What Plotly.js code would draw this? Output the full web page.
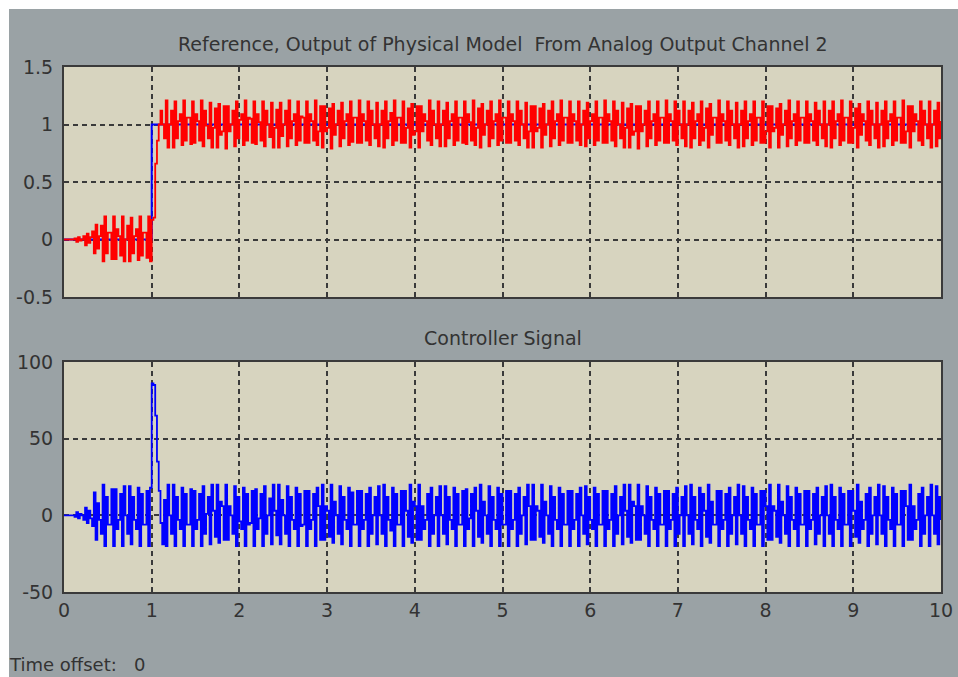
<!DOCTYPE html>
<html>
<head>
<meta charset="utf-8">
<script src="https://cdn.plot.ly/plotly-3.0.1.min.js"></script>
<style>
  html, body { margin: 0; padding: 0; background: #ffffff; width: 958px; height: 677px; overflow: hidden; }
  #chart { position: absolute; left: 9px; top: 9px; width: 949px; height: 668px; }
</style>
</head>
<body>
<div id="chart"></div>
<script>
// ---------------- data ----------------
const sampleTime = 0.02;   // seconds between samples (zero-order hold)
const startTime = 0;

// Reference signal (blue, top panel)
const refTime  = [0, 1, 10];
const refValue = [0, 1, 1];

// Output of physical model (red, top panel), one row = 0.1 s
const plantOutput = [
  0, 0, 0, 0, 0,
  0, 0.01, -0.02, 0.02, -0.01,
  0, 0.03, -0.05, 0.05, -0.03,
  0.02, 0.07, -0.12, 0.13, -0.08,
  0.03, 0.12, -0.19, 0.2, -0.12,
  0.06, 0.06, -0.17, 0.2, -0.17,
  0.09, 0.03, -0.14, 0.2, -0.19,
  0, 0.12, -0.19, 0.19, -0.12,
  0.03, 0.09, -0.18, 0.2, -0.14,
  0.06, 0.06, -0.16, 0.2, -0.19,
  0.17, 0.19, 0.66, 0.86, 1.0,
  1.12, 1.00, 0.88, 1.21, 0.80,
  1.00, 1.12, 0.80, 1.20, 0.88,
  1.03, 1.09, 0.82, 1.21, 0.86,
  1.06, 1.06, 0.83, 1.20, 0.84,
  1.09, 1.03, 0.86, 1.21, 0.81,
  1.12, 0.99, 0.88, 1.19, 0.80,
  0.97, 1.14, 0.80, 1.18, 0.91,
  0.94, 1.16, 0.79, 1.16, 0.94,
  1.00, 1.12, 0.81, 1.20, 0.88,
  1.04, 1.09, 0.82, 1.21, 0.86,
  1.06, 1.05, 0.84, 1.20, 0.83,
  1.09, 1.02, 0.86, 1.20, 0.81,
  1.12, 1.00, 0.89, 1.19, 0.80,
  0.97, 1.13, 0.80, 1.19, 0.90,
  1.00, 1.12, 0.81, 1.21, 0.88,
  1.03, 1.09, 0.82, 1.20, 0.86,
  1.07, 1.06, 0.84, 1.20, 0.84,
  1.09, 1.03, 0.86, 1.21, 0.82,
  0.94, 1.16, 0.80, 1.16, 0.94,
  0.97, 1.14, 0.79, 1.18, 0.91,
  1.00, 1.12, 0.81, 1.19, 0.88,
  1.03, 1.09, 0.82, 1.20, 0.85,
  1.06, 1.06, 0.84, 1.21, 0.84,
  1.09, 1.03, 0.86, 1.20, 0.82,
  1.12, 1.00, 0.88, 1.19, 0.81,
  1.00, 1.12, 0.80, 1.20, 0.88,
  1.03, 1.10, 0.82, 1.21, 0.86,
  1.06, 1.06, 0.84, 1.20, 0.84,
  0.97, 1.14, 0.80, 1.18, 0.91,
  0.94, 1.16, 0.80, 1.16, 0.94,
  1.09, 1.03, 0.86, 1.21, 0.82,
  1.12, 1.00, 0.88, 1.20, 0.81,
  1.00, 1.12, 0.81, 1.19, 0.88,
  1.03, 1.09, 0.82, 1.20, 0.86,
  1.06, 1.06, 0.84, 1.20, 0.83,
  1.09, 1.02, 0.86, 1.21, 0.82,
  0.97, 1.14, 0.80, 1.18, 0.91,
  1.00, 1.12, 0.81, 1.20, 0.88,
  1.03, 1.09, 0.82, 1.21, 0.86,
  1.06, 1.06, 0.84, 1.20, 0.84,
  1.09, 1.03, 0.86, 1.20, 0.82,
  1.12, 1.00, 0.88, 1.19, 0.80,
  0.94, 1.16, 0.80, 1.16, 0.94,
  0.97, 1.14, 0.80, 1.18, 0.91,
  1.00, 1.12, 0.81, 1.20, 0.88,
  1.03, 1.09, 0.82, 1.21, 0.86,
  1.06, 1.06, 0.84, 1.20, 0.84,
  1.09, 1.03, 0.86, 1.20, 0.82,
  1.00, 1.12, 0.81, 1.19, 0.88,
  1.03, 1.09, 0.82, 1.20, 0.86,
  1.06, 1.06, 0.84, 1.21, 0.84,
  1.09, 1.03, 0.86, 1.20, 0.81,
  1.12, 1.00, 0.88, 1.19, 0.80,
  0.97, 1.14, 0.80, 1.18, 0.91,
  0.94, 1.16, 0.79, 1.16, 0.94,
  1.00, 1.12, 0.81, 1.20, 0.88,
  1.03, 1.09, 0.82, 1.20, 0.86,
  1.06, 1.06, 0.84, 1.21, 0.84,
  1.09, 1.03, 0.86, 1.20, 0.82,
  1.12, 1.00, 0.88, 1.20, 0.81,
  1.00, 1.12, 0.80, 1.19, 0.88,
  1.03, 1.09, 0.82, 1.20, 0.86,
  0.97, 1.14, 0.80, 1.18, 0.91,
  1.06, 1.06, 0.84, 1.21, 0.84,
  1.09, 1.03, 0.86, 1.20, 0.82,
  1.12, 1.00, 0.88, 1.19, 0.80,
  1.00, 1.12, 0.81, 1.20, 0.88,
  1.03, 1.09, 0.82, 1.20, 0.86,
  1.06, 1.06, 0.84, 1.20, 0.84,
  0.94, 1.16, 0.80, 1.16, 0.94,
  0.97, 1.14, 0.80, 1.18, 0.91,
  1.00, 1.12, 0.81, 1.21, 0.88,
  1.03, 1.09, 0.82, 1.20, 0.86,
  1.06, 1.06, 0.84, 1.20, 0.84,
  1.09, 1.03, 0.86, 1.19, 0.82,
  1.12, 1.00, 0.88, 1.20, 0.81,
  1.00, 1.12, 0.80, 1.20, 0.88,
  1.03, 1.09, 0.82, 1.21, 0.86,
  1.06, 1.06, 0.84, 1.20, 0.84,
  0.97, 1.14, 0.80, 1.18, 0.91,
  1.09, 1.03, 0.86, 1.20, 0.82,
  1.12, 1.00, 0.88, 1.19, 0.80,
  1.00, 1.12, 0.81, 1.20, 0.88,
  1.03, 1.09, 0.82, 1.20, 0.86,
  1.06, 1.06, 0.84, 1.21, 0.84,
  0.94, 1.16, 0.80, 1.16, 0.94,
  1.09, 1.03, 0.86, 1.20, 0.82,
  1.12, 1.00, 0.88, 1.20, 0.80,
  1.00, 1.12, 0.81, 1.19, 0.88,
  1.03
];

// Controller signal (blue, bottom panel), one row = 0.1 s
const controllerSignal = [
  0, 0, 0, 0, 0,
  0, -1, 2, -2, 1,
  0, -3, 5, -5, 3,
  -2, -7, 15, -16, 8,
  -3, -12, 20, -20, 12,
  -6, -6, 17, -20, 17,
  -9, -3, 14, -20, 19,
  0, -12, 19, -19, 12,
  -3, -9, 18, -20, 14,
  -6, -6, 16, -20, 18,
  86, 85, 65, 35, 16,
  -5, -19, 10, -20, 20,
  0, -12, 20, -20, 12,
  -3, -9, 18, -20, 14,
  -6, -6, 17, -20, 16,
  -9, -3, 14, -20, 19,
  -12, 1, 12, -19, 20,
  3, -14, 20, -18, 9,
  6, -16, 20, -16, 6,
  0, -12, 19, -20, 12,
  -4, -9, 18, -20, 14,
  -6, -5, 16, -20, 17,
  -9, -2, 14, -20, 19,
  -12, 0, 11, -19, 20,
  3, -13, 20, -19, 10,
  0, -12, 19, -20, 12,
  -3, -9, 18, -20, 14,
  -7, -6, 16, -20, 16,
  -9, -3, 14, -20, 18,
  6, -16, 20, -16, 6,
  3, -14, 20, -18, 9,
  0, -12, 19, -19, 12,
  -3, -9, 18, -20, 15,
  -6, -6, 16, -20, 16,
  -9, -3, 14, -20, 18,
  -12, 0, 12, -19, 19,
  0, -12, 20, -20, 12,
  -3, -10, 18, -20, 14,
  -6, -6, 16, -20, 16,
  3, -14, 20, -18, 9,
  6, -16, 20, -16, 6,
  -9, -3, 14, -20, 18,
  -12, 0, 12, -20, 19,
  0, -12, 19, -19, 12,
  -3, -9, 18, -20, 14,
  -6, -6, 16, -20, 17,
  -9, -2, 14, -20, 18,
  3, -14, 20, -18, 9,
  0, -12, 19, -20, 12,
  -3, -9, 18, -20, 14,
  -6, -6, 16, -20, 16,
  -9, -3, 14, -20, 18,
  -12, 0, 12, -19, 20,
  6, -16, 20, -16, 6,
  3, -14, 20, -18, 9,
  0, -12, 19, -20, 12,
  -3, -9, 18, -20, 14,
  -6, -6, 16, -20, 16,
  -9, -3, 14, -20, 18,
  0, -12, 19, -19, 12,
  -3, -9, 18, -20, 14,
  -6, -6, 16, -20, 16,
  -9, -3, 14, -20, 19,
  -12, 0, 12, -19, 20,
  3, -14, 20, -18, 9,
  6, -16, 20, -16, 6,
  0, -12, 19, -20, 12,
  -3, -9, 18, -20, 14,
  -6, -6, 16, -20, 16,
  -9, -3, 14, -20, 18,
  -12, 0, 12, -20, 19,
  0, -12, 20, -19, 12,
  -3, -9, 18, -20, 14,
  3, -14, 20, -18, 9,
  -6, -6, 16, -20, 16,
  -9, -3, 14, -20, 18,
  -12, 0, 12, -19, 20,
  0, -12, 19, -20, 12,
  -3, -9, 18, -20, 14,
  -6, -6, 16, -20, 16,
  6, -16, 20, -16, 6,
  3, -14, 20, -18, 9,
  0, -12, 19, -20, 12,
  -3, -9, 18, -20, 14,
  -6, -6, 16, -20, 16,
  -9, -3, 14, -19, 18,
  -12, 0, 12, -20, 19,
  0, -12, 20, -20, 12,
  -3, -9, 18, -20, 14,
  -6, -6, 16, -20, 16,
  3, -14, 20, -18, 9,
  -9, -3, 14, -20, 18,
  -12, 0, 12, -19, 20,
  0, -12, 19, -20, 12,
  -3, -9, 18, -20, 14,
  -6, -6, 16, -20, 16,
  6, -16, 20, -16, 6,
  -9, -3, 14, -20, 18,
  -12, 0, 12, -20, 20,
  0, -12, 19, -19, 12,
  -3
];

// Axis ticks
const timeTicks      = [0, 1, 2, 3, 4, 5, 6, 7, 8, 9, 10];
const timeTickText   = ['0', '1', '2', '3', '4', '5', '6', '7', '8', '9', '10'];
const topTickVals    = [-0.5, 0, 0.5, 1, 1.5];
const topTickText    = ['-0.5', '0', '0.5', '1', '1.5'];
const bottomTickVals = [-50, 0, 50, 100];
const bottomTickText = ['-50', '0', '50', '100'];

// Texts
const topTitle    = 'Reference, Output of Physical Model\u00a0 From Analog Output Channel 2';
const bottomTitle = 'Controller Signal';
const offsetLabel = 'Time offset:\u00a0\u00a0 0';

// ---------------- chart ----------------
const FONT = 'DejaVu Sans, sans-serif';
const TXT = '#333333';
const GRID = '#3a3a3a';
const FRAME = '#3a3a3a';

const traces = [
  { x: refTime, y: refValue, xaxis: 'x', yaxis: 'y', mode: 'lines',
    line: { color: '#0000ff', width: 2, shape: 'hv' }, hoverinfo: 'skip' },
  { y: plantOutput, x0: startTime, dx: sampleTime, xaxis: 'x', yaxis: 'y', mode: 'lines',
    line: { color: '#ff0000', width: 1.8, shape: 'hv' }, hoverinfo: 'skip' },
  { y: controllerSignal, x0: startTime, dx: sampleTime, xaxis: 'x2', yaxis: 'y2', mode: 'lines',
    line: { color: '#0000ff', width: 1.8, shape: 'hv' }, hoverinfo: 'skip' }
];

function xAx(showLabels, anchor) {
  return {
    domain: [0, 1], anchor: anchor, range: [0, 10],
    tickmode: 'array', tickvals: timeTicks, ticktext: timeTickText,
    showticklabels: showLabels, ticks: '',
    tickfont: { family: FONT, size: 19, color: TXT },
    showgrid: true, gridcolor: GRID, gridwidth: 2, griddash: '5px,4px',
    zeroline: false, showline: true, mirror: true, linecolor: FRAME, linewidth: 2,
    fixedrange: true
  };
}
function yAx(domain, range, vals, text, anchor) {
  return {
    domain: domain, anchor: anchor, range: range,
    tickmode: 'array', tickvals: vals, ticktext: text, ticks: '',
    ticklabelstandoff: 5,
    tickfont: { family: FONT, size: 19, color: TXT },
    showgrid: true, gridcolor: GRID, gridwidth: 2, griddash: '5px,4px',
    zeroline: false, showline: true, mirror: true, linecolor: FRAME, linewidth: 2,
    fixedrange: true
  };
}

const layout = {
  width: 949, height: 668,
  margin: { l: 55, r: 17, t: 58, b: 85, pad: 0 },
  paper_bgcolor: '#9aa2a5',
  plot_bgcolor: '#d7d4bf',
  showlegend: false,
  font: { family: FONT, color: TXT },
  xaxis: xAx(false, 'y'),
  yaxis: yAx([0.5619, 1], [-0.5, 1.5], topTickVals, topTickText, 'x'),
  xaxis2: xAx(true, 'y2'),
  yaxis2: yAx([0, 0.4381], [-50, 100], bottomTickVals, bottomTickText, 'x2'),
  annotations: [
    { text: topTitle, xref: 'paper', yref: 'paper', x: 0.5, y: 1.0438,
      xanchor: 'center', yanchor: 'middle', showarrow: false,
      font: { family: FONT, size: 19, color: TXT } },
    { text: bottomTitle, xref: 'paper', yref: 'paper', x: 0.5, y: 0.4838,
      xanchor: 'center', yanchor: 'middle', showarrow: false,
      font: { family: FONT, size: 19, color: TXT } },
    { text: offsetLabel, xref: 'paper', yref: 'paper', x: -0.0655, y: -0.139,
      xanchor: 'left', yanchor: 'middle', showarrow: false,
      font: { family: FONT, size: 18, color: TXT } }
  ]
};

Plotly.newPlot('chart', traces, layout, { displayModeBar: false, staticPlot: true });
</script>
</body>
</html>
